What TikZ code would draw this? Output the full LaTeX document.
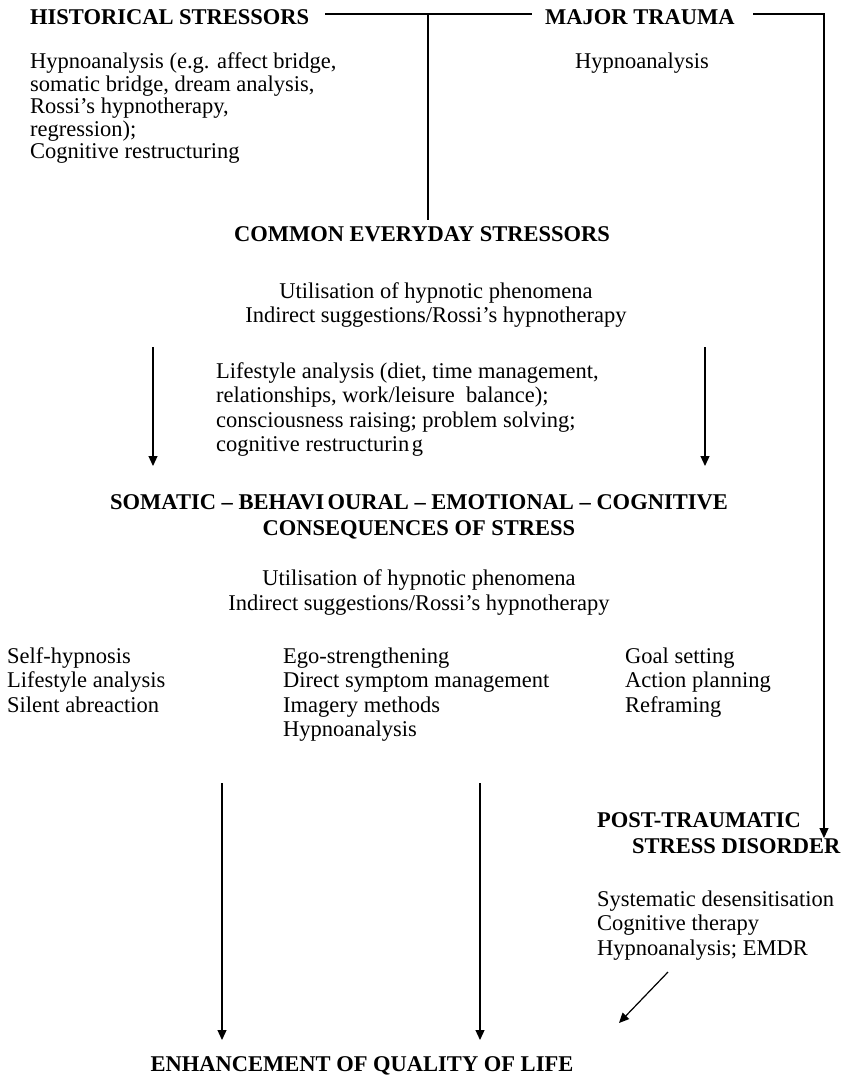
\documentclass[tikz,border=0pt]{standalone}
\usepackage{fontspec}
\setmainfont{Liberation Serif}
\usetikzlibrary{arrows.meta,positioning}
\newcommand{\txtfont}{\fontsize{22.5}{24.5}\selectfont}
\newcommand{\headfont}{\fontsize{22.5}{25.5}\selectfont\bfseries}
\tikzset{
  head/.style={font=\headfont, inner sep=0pt},
  txt/.style={font=\txtfont, inner sep=0pt, align=left},
  ctxt/.style={font=\txtfont, inner sep=0pt, align=center},
  tighttxt/.style={font={\fontsize{22.5}{22.5}\selectfont\lineskiplimit=-30pt}, inner sep=0pt, align=left},
  conn/.style={line width=1.2pt},
  arr/.style={-{Triangle[length=10pt,width=9pt]}, line width=1.2pt}
}

\begin{document}
\begin{tikzpicture}[x=1pt,y=-1pt]
\useasboundingbox (0,0) rectangle (842,1078);
% top row (multi-line nodes sit on the baseline of their last line)
\node[head,anchor=base west] (hist) at (30,25) {HISTORICAL STRESSORS};
\node[head,anchor=base west] (major) at (545,25) {MAJOR TRAUMA};
\node[tighttxt,anchor=base west] (histtx) at (30,159) {Hypnoanalysis (e.g. affect bridge,\\somatic bridge, dream analysis,\\Rossi’s hypnotherapy,\\regression);\\Cognitive restructuring};
\node[txt,anchor=base west] (majortx) at (575,69) {Hypnoanalysis};
% everyday stressors
\node[head,anchor=base] (common) at (422,241) {COMMON EVERYDAY STRESSORS};
\node[ctxt,anchor=base] (util1) at (436,322.5) {Utilisation of hypnotic phenomena\\Indirect suggestions/Rossi’s hypnotherapy};
\node[txt,anchor=base west] (life) at (216,451.5) {Lifestyle analysis (diet, time management,\\relationships, work/leisure\ \ balance);\\consciousness raising; problem solving;\\cognitive restructurin\hspace{0.12em}g};
% consequences
\node[head,align=center,anchor=base] (conseq) at (419,535) {SOMATIC \textendash{} BEHAVI\hspace{0.15em}OURAL \textendash{} EMOTIONAL \textendash{} COGNITIVE\\CONSEQUENCES OF STRESS};
\node[ctxt,anchor=base] (util2) at (419,610) {Utilisation of hypnotic phenomena\\Indirect suggestions/Rossi’s hypnotherapy};
\node[txt,anchor=base west] (colA) at (7,712) {Self-hypnosis\\Lifestyle analysis\\Silent abreaction};
\node[txt,anchor=base west] (colB) at (283,736.5) {Ego-strengthening\\Direct symptom management\\Imagery methods\\Hypnoanalysis};
\node[txt,anchor=base west] (colC) at (625,712) {Goal setting\\Action planning\\Reframing};
% ptsd
\node[head,align=left,anchor=base west] (ptsd) at (597,853) {POST-TRAUMATIC\\\hspace{35pt}STRESS DISORDER};
\node[txt,anchor=base west] (ptsdtx) at (597,955) {Systematic desensitisation\\Cognitive therapy\\Hypnoanalysis; EMDR};
\node[head,anchor=base] (enh) at (362,1071) {ENHANCEMENT OF QUALITY OF LIFE};

% connectors
\coordinate (hl) at (325,14);
\coordinate (hr) at (532,14);
\coordinate (jn) at (428,14);
\coordinate (jb) at (428,220);
\coordinate (ml) at (753,14);
\coordinate (mr) at (824,14);
\coordinate (pt) at (824,838);
\draw[conn] (hl) -- (hr);
\draw[conn] (jn) -- (jb);
\draw[arr] (ml) -- (mr) -- (pt);
\coordinate (a1s) at (153,347);
\coordinate (a1e) at (153,466);
\coordinate (a2s) at (705,347);
\coordinate (a2e) at (705,466);
\draw[arr] (a1s) -- (a1e);
\draw[arr] (a2s) -- (a2e);
\coordinate (b1s) at (222,783);
\coordinate (b1e) at (222,1040);
\coordinate (b2s) at (480,783);
\coordinate (b2e) at (480,1040);
\draw[arr] (b1s) -- (b1e);
\draw[arr] (b2s) -- (b2e);
\coordinate (ds) at (668,972);
\coordinate (de) at (619,1023);
\draw[arr] (ds) -- (de);
\end{tikzpicture}
\end{document}
